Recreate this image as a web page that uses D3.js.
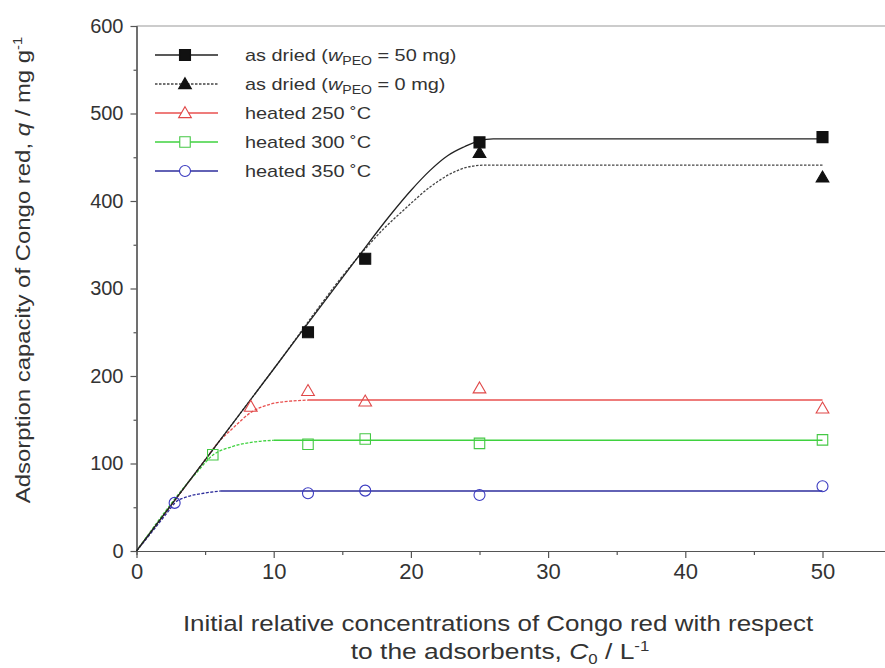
<!DOCTYPE html>
<html>
<head>
<meta charset="utf-8">
<script src="https://cdn.jsdelivr.net/npm/d3@7"></script>
<style>
  body { margin: 0; background: #fff; }
  text { font-family: "Liberation Sans", Arial, sans-serif; fill: #333; }
</style>
</head>
<body>
<script>
// measured points (C0 in L-1, q in mg g-1)
const dried50X = [12.5, 16.67, 25, 50];
const dried50Q = [250, 334, 467, 473];
const dried0X = [25, 50];
const dried0Q = [455, 427];
const h250X = [8.33, 12.5, 16.67, 25, 50];
const h250Q = [165, 183, 171, 186, 163];
const h300X = [5.56, 12.5, 16.67, 25, 50];
const h300Q = [110, 122, 128, 123, 127];
const h350X = [2.78, 12.5, 16.67, 25, 50];
const h350Q = [55, 66, 69, 64, 74];

// fitted curves
const fit50X = [0, 10, 16, 18.5, 20, 21.4, 22.7, 23.9, 25, 26, 50];
const fit50Q = [0, 208, 333, 384, 412, 435, 452, 462, 469, 471, 471];
const fit0X = [0, 10, 16, 18, 19.5, 21.4, 23, 24.2, 25.5, 50];
const fit0Q = [0, 208, 333, 368, 390, 416, 432, 439, 441, 441];
const fit250X = [0, 5, 5.9, 7, 8.4, 9.8, 11.4, 12.5, 50];
const fit250Q = [0, 104, 123, 140, 159, 168, 171.5, 172.5, 172.5];
const fit300X = [0, 4.4, 5.6, 6.9, 8.5, 10, 50];
const fit300Q = [0, 90, 110, 119, 124.5, 126.5, 126.5];
const fit350X = [0, 2.3, 2.8, 3.7, 4.9, 6.1, 50];
const fit350Q = [0, 45, 55, 62, 66, 68.5, 68.5];
const knees = [12.5, 10, 6.1];

const xTicks = [0, 10, 20, 30, 40, 50];
const xMinor = [5, 15, 25, 35, 45, 55];
const yTicks = [0, 100, 200, 300, 400, 500, 600];
const yMinor = [50, 150, 250, 350, 450, 550];

const W = 885, H = 668;
const x = d3.scaleLinear().domain([0, 55]).range([136.5, 136.5 + 55 * 13.72]);
const y = d3.scaleLinear().domain([0, 600]).range([551, 26]);

const svg = d3.select("body").append("svg").attr("width", W).attr("height", H);

// frame top line
svg.append("line").attr("x1", x(0)).attr("x2", x(55)).attr("y1", y(600)).attr("y2", y(600))
   .attr("stroke", "#999").attr("stroke-width", 1.2);

// axes
const axisStyle = g => {
  g.select(".domain").attr("stroke", "#555").attr("stroke-width", 1.2);
  g.selectAll(".tick line").attr("stroke", "#555").attr("stroke-width", 1.2);
};
svg.append("g").attr("transform", `translate(${x(0)},0)`)
   .call(d3.axisLeft(y).tickValues(yMinor).tickSize(3).tickFormat("")).call(axisStyle);
svg.append("g").attr("transform", `translate(${x(0)},0)`)
   .call(d3.axisLeft(y).tickValues(yTicks).tickSize(6).tickPadding(7).tickSizeOuter(0)).call(axisStyle)
   .selectAll("text").style("font-size", "20px").attr("fill", "#333");
svg.append("g").attr("transform", `translate(0,${y(0)})`)
   .call(d3.axisBottom(x).tickValues(xMinor).tickSize(4).tickFormat("")).call(axisStyle);
svg.append("g").attr("transform", `translate(0,${y(0)})`)
   .call(d3.axisBottom(x).tickValues(xTicks).tickSize(7).tickPadding(5).tickSizeOuter(0)).call(axisStyle)
   .selectAll("text").style("font-size", "22px").attr("fill", "#333");

// curves
const line = d3.line().x(d => x(d[0])).y(d => y(d[1])).curve(d3.curveMonotoneX);
const zip = (a, b) => a.map((v, i) => [v, b[i]]);

const colFits = [
  { xs: fit250X, qs: fit250Q, c: "#e8504f", k: knees[0] },
  { xs: fit300X, qs: fit300Q, c: "#3fd23f", k: knees[1] },
  { xs: fit350X, qs: fit350Q, c: "#2e2e9c", k: knees[2] }
];
colFits.forEach(f => {
  const pts = zip(f.xs, f.qs);
  svg.append("path").attr("d", line(pts.filter(p => p[0] <= f.k)))
     .attr("fill", "none").attr("stroke", f.c).attr("stroke-width", 1.3).attr("stroke-dasharray", "3,1.5");
  svg.append("path").attr("d", line(pts.filter(p => p[0] >= f.k)))
     .attr("fill", "none").attr("stroke", f.c).attr("stroke-width", 1.5);
});
svg.append("path").attr("d", line(zip(fit0X, fit0Q)))
   .attr("fill", "none").attr("stroke", "#444").attr("stroke-width", 1.3).attr("stroke-dasharray", "2.5,1.5");
svg.append("path").attr("d", line(zip(fit50X, fit50Q)))
   .attr("fill", "none").attr("stroke", "#222").attr("stroke-width", 1.3);

// markers
const series = [
  { xs: dried50X, qs: dried50Q, sym: d3.symbolSquare, size: 121, fill: "#111", stroke: "#111" },
  { xs: dried0X, qs: dried0Q, sym: d3.symbolTriangle, size: 70, fill: "#111", stroke: "#111" },
  { xs: h250X, qs: h250Q, sym: d3.symbolTriangle, size: 70, fill: "none", stroke: "#e04848" },
  { xs: h300X, qs: h300Q, sym: d3.symbolSquare, size: 110, fill: "none", stroke: "#44c844" },
  { xs: h350X, qs: h350Q, sym: d3.symbolCircle, size: 95, fill: "none", stroke: "#3a3ac0" }
];
series.forEach(s => {
  svg.append("g").selectAll("path").data(zip(s.xs, s.qs)).enter().append("path")
     .attr("d", d3.symbol(s.sym, s.size))
     .attr("transform", d => `translate(${x(d[0])},${y(d[1]) + (s.sym === d3.symbolTriangle ? 1 : 0)})`)
     .attr("fill", s.fill).attr("stroke", s.stroke).attr("stroke-width", 1.1);
});

// legend
const legendItems = [
  { pre: "as dried (", it: "w", sub: "PEO", post: " = 50 mg)", dash: null, line: "#222" },
  { pre: "as dried (", it: "w", sub: "PEO", post: " = 0 mg)", dash: "2.5,1.5", line: "#444" },
  { pre: "heated 250 ˚C", line: "#e8504f" },
  { pre: "heated 300 ˚C", line: "#3fd23f" },
  { pre: "heated 350 ˚C", line: "#2e2e9c" }
];
const leg = svg.append("g");
legendItems.forEach((d, i) => {
  const ly = 55 + i * 29;
  const s = series[i];
  leg.append("line").attr("x1", 155).attr("x2", 218).attr("y1", ly).attr("y2", ly)
     .attr("stroke", d.line).attr("stroke-width", 1.3).attr("stroke-dasharray", d.dash);
  leg.append("path").attr("d", d3.symbol(s.sym, s.size))
     .attr("transform", `translate(185,${ly + (s.sym === d3.symbolTriangle ? 1 : 0)})`)
     .attr("fill", s.fill === "none" ? "#fff" : s.fill).attr("stroke", s.stroke).attr("stroke-width", 1.1);
  const t = leg.append("text").attr("transform", `translate(245,${ly + 6}) scale(1.17,1)`)
     .style("font-size", "17px");
  t.append("tspan").text(d.pre);
  if (d.it) {
    t.append("tspan").style("font-style", "italic").text(d.it);
    t.append("tspan").attr("dy", 4).style("font-size", "12px").text(d.sub);
    t.append("tspan").attr("dy", -4).text(d.post);
  }
});

// axis titles
const yt = svg.append("text").attr("transform", "translate(30,270) rotate(-90) scale(1.14,1)")
   .attr("text-anchor", "middle").style("font-size", "21px");
yt.append("tspan").text("Adsorption capacity of Congo red, ");
yt.append("tspan").style("font-style", "italic").text("q");
yt.append("tspan").text(" / mg g");
yt.append("tspan").attr("dy", -8).style("font-size", "13px").text("-1");

svg.append("text").attr("transform", "translate(498,631) scale(1.18,1)").attr("text-anchor", "middle")
   .style("font-size", "22px").text("Initial relative concentrations of Congo red with respect");
const xt = svg.append("text").attr("transform", "translate(500,659) scale(1.2,1)")
   .attr("text-anchor", "middle").style("font-size", "22px");
xt.append("tspan").text("to the adsorbents, ");
xt.append("tspan").style("font-style", "italic").text("C");
xt.append("tspan").attr("dy", 5).style("font-size", "14px").text("0");
xt.append("tspan").attr("dy", -5).text(" / L");
xt.append("tspan").attr("dy", -8).style("font-size", "14px").text("-1");
</script>
</body>
</html>
